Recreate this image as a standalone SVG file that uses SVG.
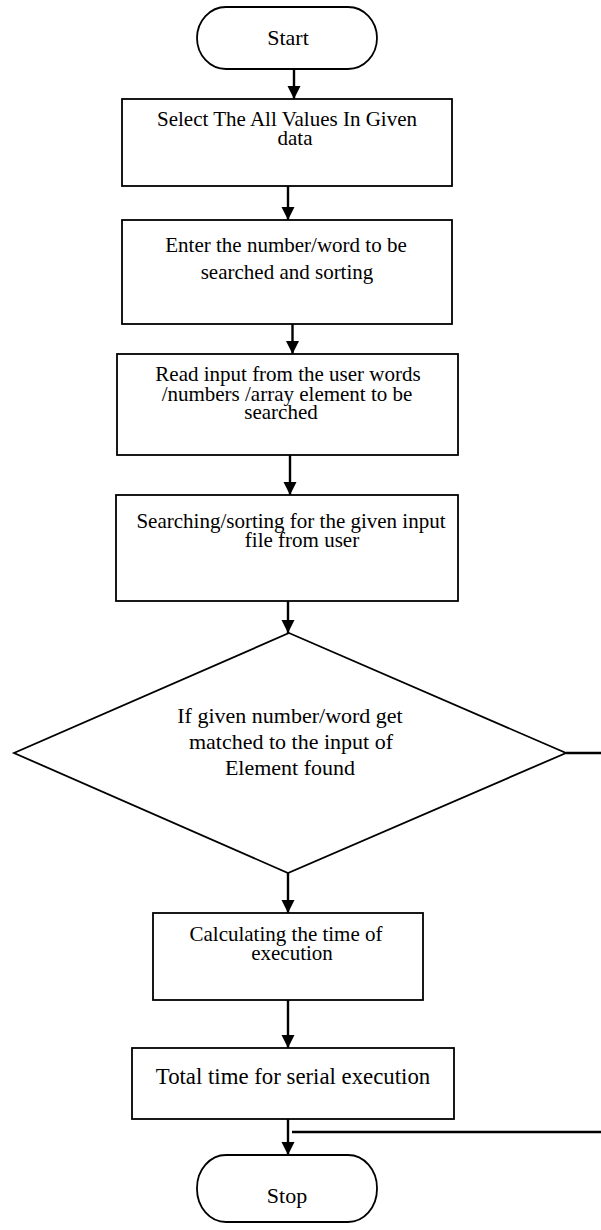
<svg xmlns="http://www.w3.org/2000/svg" width="601" height="1230" viewBox="0 0 601 1230">
  <defs>
    <marker id="arrow" markerUnits="userSpaceOnUse" markerWidth="14" markerHeight="14" refX="13" refY="6.5" orient="auto">
      <path d="M0,0 L13,6.5 L0,13 Z" fill="#000"/>
    </marker>
  </defs>
  <style>
    .shape { fill: #fff; stroke: #000; stroke-width: 1.8; }
    text { fill: #000; text-anchor: middle; font-size: 21px; }
    .big { font-size: 22px; }
    .conn { fill: none; stroke: #000; stroke-width: 2.4; }
  </style>
  <rect width="601" height="1230" fill="#fff"/>

  <!-- connectors -->
  <g id="connectors">
    <line class="conn" x1="294" y1="69" x2="294" y2="99" marker-end="url(#arrow)"/>
    <line class="conn" x1="288" y1="186" x2="288" y2="220" marker-end="url(#arrow)"/>
    <line class="conn" x1="292.5" y1="320" x2="292.5" y2="354" marker-end="url(#arrow)"/>
    <line class="conn" x1="290" y1="455" x2="290" y2="495" marker-end="url(#arrow)"/>
    <line class="conn" x1="288" y1="601" x2="288" y2="633" marker-end="url(#arrow)"/>
    <line class="conn" x1="288" y1="873" x2="288" y2="913" marker-end="url(#arrow)"/>
    <line class="conn" x1="288" y1="1000" x2="288" y2="1048" marker-end="url(#arrow)"/>
    <line class="conn" x1="288" y1="1119" x2="288" y2="1155" marker-end="url(#arrow)"/>
    <line class="conn" x1="566" y1="753" x2="601" y2="753"/>
    <line class="conn" x1="292" y1="1132" x2="601" y2="1132"/>
  </g>

  <g font-family="'Liberation Serif', 'DejaVu Serif', serif">
    <!-- start terminator -->
    <g id="start">
      <rect class="shape" x="197" y="7" width="180" height="62" rx="29" ry="31"/>
      <text class="big" x="288" y="45">Start</text>
    </g>

    <g id="select-values">
      <rect class="shape" x="122" y="99" width="330" height="87"/>
      <text x="287" y="126">Select The All Values In Given</text>
      <text x="295" y="145">data</text>
    </g>

    <g id="enter-number">
      <rect class="shape" x="122" y="220" width="330" height="104"/>
      <text x="286" y="252">Enter the number/word to be</text>
      <text x="287" y="279">searched and sorting</text>
    </g>

    <g id="read-input">
      <rect class="shape" x="117" y="354" width="341" height="101"/>
      <text x="288" y="381">Read input from the user words</text>
      <text x="287" y="401">/numbers /array element to be</text>
      <text x="281" y="419">searched</text>
    </g>

    <g id="search-sort">
      <rect class="shape" x="116" y="495" width="342" height="106"/>
      <text x="291" y="528">Searching/sorting for the given input</text>
      <text x="302" y="547">file from user</text>
    </g>

    <!-- decision -->
    <g id="match-decision">
      <polygon class="shape" points="289,633 566,753 288,873 14,753"/>
      <text class="big" x="290" y="723">If given number/word get</text>
      <text class="big" x="291" y="749">matched to the input of</text>
      <text class="big" x="290" y="775">Element found</text>
    </g>

    <g id="calc-time">
      <rect class="shape" x="153" y="913" width="270" height="87"/>
      <text x="286" y="941">Calculating the time of</text>
      <text x="292" y="960">execution</text>
    </g>

    <g id="total-time">
      <rect class="shape" x="132" y="1048" width="322" height="71"/>
      <text x="293" y="1084" style="font-size:22.8px">Total time for serial execution</text>
    </g>

    <!-- stop terminator -->
    <g id="stop">
      <rect class="shape" x="197" y="1155" width="180" height="67" rx="29" ry="33"/>
      <text class="big" x="287" y="1203">Stop</text>
    </g>
  </g>
</svg>
